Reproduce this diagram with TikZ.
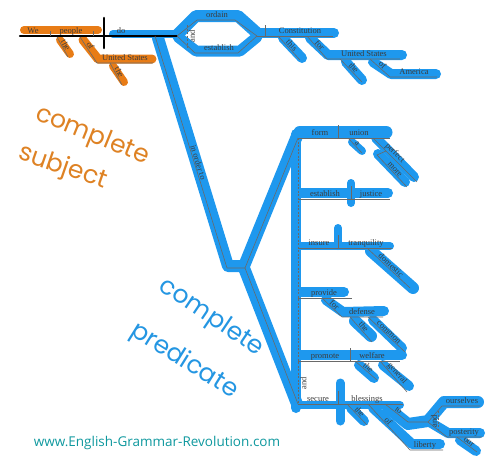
\documentclass[tikz,border=0pt]{standalone}
\usepackage{fontspec}
\setmainfont{Liberation Serif}
\newfontfamily\handfont{Poppins}
\newfontfamily\urlfont{Open Sans}

\definecolor{hlblue}{RGB}{30,152,238}
\definecolor{hlorange}{RGB}{232,124,22}
\definecolor{subjtext}{RGB}{222,130,36}
\definecolor{predtext}{RGB}{36,150,226}
\definecolor{urlteal}{RGB}{14,152,158}
\definecolor{lineg}{RGB}{105,105,105}
\definecolor{wordc}{RGB}{60,60,60}

\begin{document}
\begin{tikzpicture}[x=1pt, y=-1pt,
    hlb/.style={draw=hlblue, line width=#1, line cap=round, line join=round},
    hlb/.default=10pt,
    hlo/.style={draw=hlorange, line width=#1, line cap=round, line join=round},
    hlo/.default=8pt,
    base/.style={draw=lineg, line width=0.6pt},
    andline/.style={draw=lineg, line width=0.6pt, dash pattern=on 2pt off 1.5pt},
    word/.style={font=\fontsize{8.5}{8.5}\selectfont, text=wordc, inner sep=0.6pt},
    hand/.style={font=\handfont\fontsize{25}{25}\selectfont, inner sep=0pt},
]

    % Define page and stack dimensions
    \def\infx{298} % x of the infinitive stack
    \def\mainy{36} % y of the main line

    \useasboundingbox (0,0) rectangle (500,471);

    % --- Highlights (orange = subject, blue = predicate) ---
    \draw[hlo] (24,30) -- (98,30);
    \draw[hlo] (60,40) -- (70,54);
    \draw[hlo=9pt] (83,40) -- (98,59) -- (152,59);
    \draw[hlo] (113,66) -- (124,82);

    \draw[hlb=8pt] (113,34) -- (176,34);
    \draw[hlb=12pt] (178,34) -- (196,16) -- (238,16) -- (257,33); % ordain
    \draw[hlb=11pt] (178,37) -- (196,51) -- (240,51) -- (257,37); % establish
    \draw[hlb] (258,33) -- (334,33);
    \draw[hlb] (283,38) -- (302,58);
    \draw[hlb] (310,38) -- (328,55) -- (402,55);
    \draw[hlb] (346,62) -- (362,80);
    \draw[hlb] (373,62) -- (391,74) -- (436,74);

    \draw[hlb=12pt] (158,38) -- (228,266) -- (244,266) -- (297,136);
    \draw[hlb=12pt] (244,268) -- (297,404);
    \draw[hlb] (296,134) -- (296,408);

    \draw[hlb=13pt] (300,132) -- (386,132); % form union
    \draw[hlb=8pt] (352,142) -- (362,151);
    \draw[hlb] (376,138) -- (414,177);
    \draw[hlb] (378,154) -- (405,182);
    \draw[hlb] (300,193) -- (388,193); % establish justice
    \draw[hlb=8pt] (351,183) -- (351,203);
    \draw[hlb=8pt] (300,246) -- (390,246); % insure tranquility
    \draw[hlb=8pt] (338,228) -- (338,246);
    \draw[hlb=12pt] (371,251) -- (413,288);
    \draw[hlb] (300,292) -- (344,292); % provide
    \draw[hlb] (326,300) -- (343,312) -- (384,311);
    \draw[hlb=12pt] (355,321) -- (371,336);
    \draw[hlb] (373,320) -- (402,348);
    \draw[hlb] (300,355) -- (402,355); % promote welfare
    \draw[hlb] (359,365) -- (374,378);
    \draw[hlb] (383,365) -- (409,386);
    \draw[hlb=8pt] (300,405) -- (400,405); % secure blessings
    \draw[hlb=9pt] (340,383) -- (340,421);
    \draw[hlb] (351,408) -- (364,421);
    \draw[hlb] (373,408) -- (412,444) -- (440,444);
    \draw[hlb=12pt] (388,408) -- (408,424) -- (428,421) -- (444,402) -- (478,402);
    \draw[hlb] (428,421) -- (448,433) -- (480,433);
    \draw[hlb] (460,440) -- (476,451);

    % --- Subject ---
    \draw[black, line width=2.2pt, line cap=round] (20,\mainy) -- (177,\mainy); % main line
    \draw[black, line width=2.6pt, line cap=round] (104,18) -- (104,48); % subject | predicate
    \foreach \x in {50,93} {
        \draw[base] (\x,31) -- (\x,\mainy);
    }
    \node[word, anchor=base] (w-we) at (33,33.5) {We};
    \node[word, anchor=base] (w-people) at (71,33.5) {people};
    \draw[base] (57,37) -- node[word, sloped, above] (w-the1) {the} (68,57);
    \draw[base] (80,37) -- node[word, sloped, above, pos=0.42] (w-of1) {of} (97,63) -- (153,63);
    \node[word, anchor=base] (w-us1) at (125,60.5) {United States};
    \draw[base] (110,63) -- node[word, sloped, above] (w-the2) {the} (122,85);

    % --- Predicate: compound verb ---
    \node[word, anchor=base] (w-do) at (121,33.5) {do};
    \coordinate (forkL) at (177,\mainy);
    \coordinate (forkR) at (257,\mainy);
    \draw[base] (forkL) -- (197,20) -- (235,20) -- (forkR);
    \draw[base] (forkL) -- (195,53) -- (238,53) -- (forkR);
    \draw[andline] (187,25) -- (187,48);
    \node[word, rotate=90] (w-and1) at (192,36.5) {and};
    \node[word, anchor=base] (w-ordain) at (217,17.5) {ordain};
    \node[word, anchor=base] (w-establish) at (219,50.5) {establish};

    % --- Direct object ---
    \draw[base] (forkR) -- (333,\mainy);
    \draw[base] (265,25) -- (265,\mainy);
    \node[word, anchor=base] (w-constitution) at (300,33.5) {Constitution};
    \draw[base] (278,\mainy) -- node[word, sloped, above] (w-this) {this} (300,60);
    \draw[base] (307,\mainy) -- node[word, sloped, above] (w-for1) {for} (327,59) -- (400,59);
    \node[word, anchor=base] (w-us2) at (364,56.5) {United States};
    \draw[base] (340,59) -- node[word, sloped, above] (w-the3) {the} (362,82);
    \draw[base] (370,59) -- node[word, sloped, above] (w-of2) {of} (390,77) -- (437,77);
    \node[word, anchor=base] (w-america) at (414,74.5) {America};

    % --- in order to + infinitive stack ---
    \coordinate (vL) at (227,268);
    \coordinate (vR) at (245,268);
    \coordinate (infT) at (\infx,138);
    \coordinate (infB) at (\infx,404);
    \draw[base] (155,\mainy) -- node[word, sloped, above, pos=0.55] (w-inorder) {in order to} (vL) -- (vR) -- (infT);
    \draw[base] (vR) -- (infB);
    \draw[andline] (infT) -- (infB);
    \node[word, rotate=90] (w-and2) at (303.5,383) {and};

    % Draw the infinitive lines - y / divider x / right end
    \foreach \y/\d/\r in {138/338/390, 199/351/390, 248/338/392, 298/0/352, 361/350/400, 404/338/403} {
        \draw[base] (\infx,\y) -- (\r,\y);
        \ifnum\d>0
            \draw[base] (\d,\y-13) -- (\d,\y);
        \fi
    }

    % form a more perfect union
    \node[word, anchor=base] (w-form) at (320,135.5) {form};
    \node[word, anchor=base] (w-union) at (359,135.5) {union};
    \draw[base] (348,138) -- node[word, sloped, above] (w-a) {a} (362,153);
    \draw[base] (373,138) -- node[word, sloped, above, pos=0.42] (w-perfect) {perfect} (417,182);
    \draw[base] (386,151) -- (377,155) -- node[word, sloped, above, pos=0.52] (w-more) {more} (407,187);

    % establish justice
    \node[word, anchor=base] (w-establish2) at (325,196.5) {establish};
    \node[word, anchor=base] (w-justice) at (371,196.5) {justice};

    % insure domestic tranquility
    \node[word, anchor=base] (w-insure) at (319,245.5) {insure};
    \node[word, anchor=base] (w-tranquility) at (366,245.5) {tranquility};
    \draw[base] (367,248) -- node[word, sloped, above] (w-domestic) {domestic} (410,288);

    % provide for the common defense
    \node[word, anchor=base] (w-provide) at (324,295.5) {provide};
    \draw[base] (322,298) -- node[word, sloped, above] (w-for2) {for} (342,317) -- (383,317);
    \node[word, anchor=base] (w-defense) at (362,314.5) {defense};
    \draw[base] (350,317) -- node[word, sloped, above] (w-the4) {the} (372,342);
    \draw[base] (368,317) -- node[word, sloped, above] (w-common) {common} (405,352);

    % promote the general welfare
    \node[word, anchor=base] (w-promote) at (325,358.5) {promote};
    \node[word, anchor=base] (w-welfare) at (372,358.5) {welfare};
    \draw[base] (355,361) -- node[word, sloped, above] (w-the5) {the} (377,380);
    \draw[base] (380,361) -- node[word, sloped, above] (w-general) {general} (407,392);

    % secure the blessings of liberty to ourselves and our posterity
    \node[word, anchor=base] (w-secure) at (318,401.5) {secure};
    \node[word, anchor=base] (w-blessings) at (367,401.5) {blessings};
    \draw[base] (347,404) -- node[word, sloped, above] (w-the6) {the} (367,425);
    \draw[base] (368,404) -- node[word, sloped, above, pos=0.42] (w-of3) {of} (410,450) -- (443,450);
    \node[word, anchor=base] (w-liberty) at (425,447.5) {liberty};
    \coordinate (toEnd) at (428,422);
    \draw[base] (385,404) -- node[word, sloped, above] (w-to) {to} (408,422) -- (toEnd);
    \draw[base] (toEnd) -- (442,406) -- (480,406);
    \draw[base] (toEnd) -- (447,437) -- (482,437);
    \draw[andline] (438,411) -- (438,430);
    \node[word, rotate=90] (w-and3) at (434,421) {and};
    \node[word, anchor=base] (w-ourselves) at (462,403.5) {ourselves};
    \node[word, anchor=base] (w-posterity) at (464,434.5) {posterity};
    \draw[base] (457,437) -- node[word, sloped, above] (w-our) {our} (477,452);

    % --- Hand lettered labels ---
    \node[hand, text=subjtext, rotate=-22] (cs1) at (92,136) {complete};
    \node[hand, text=subjtext, rotate=-19] (cs2) at (63,168) {subject};
    \node[hand, text=predtext, rotate=-34] (cp1) at (211,318) {complete};
    \node[hand, text=predtext, rotate=-32] (cp2) at (184,361) {predicate};
    \node[font=\urlfont\fontsize{13.5}{13.5}\selectfont, text=urlteal] (url) at (157,443) {www.English-Grammar-Revolution.com};

\end{tikzpicture}
\end{document}
